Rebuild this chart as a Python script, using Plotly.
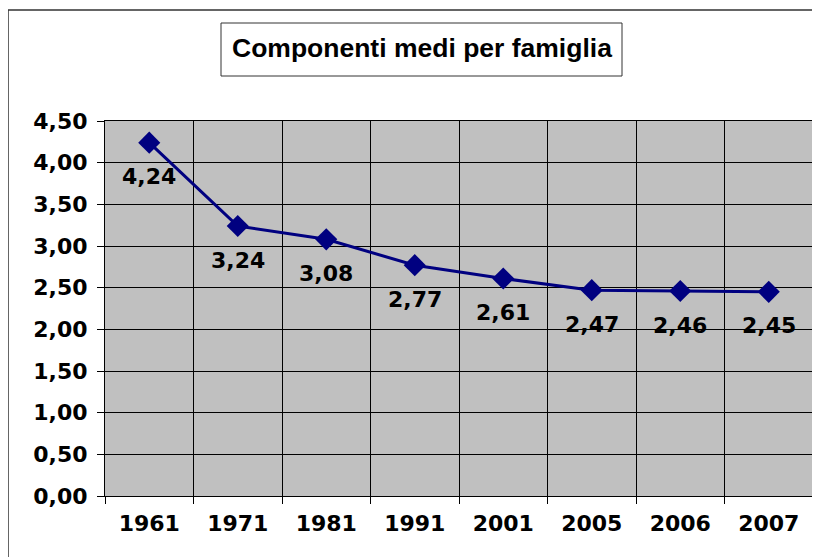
import plotly.graph_objects as go

years = ["1961", "1971", "1981", "1991", "2001", "2005", "2006", "2007"]
values = [4.24, 3.24, 3.08, 2.77, 2.61, 2.47, 2.46, 2.45]
title_text = "Componenti medi per famiglia"

W, H = 820, 557
OFF = 8  # page body margin offset
# target plot area in page pixels
PL, PR, PT, PB = 105, 813, 121, 496
ml = PL - OFF
mt = PT - OFF
mr = W - (PR - OFF)
mb = H - (PB - OFF)
pw = PR - PL
ph = PB - PT

def px_x(x):
    return (x - PL) / pw

def px_y(y):
    return (PB - y) / ph

fig = go.Figure()
fig.add_trace(go.Scatter(
    x=years, y=values, mode="lines+markers",
    line=dict(color="#000080", width=3),
    marker=dict(symbol="diamond", size=17, color="#000080"),
    showlegend=False, hoverinfo="skip",
))

tickfont = dict(family="DejaVu Sans", size=22, color="black")
annotations = []
for i, v in enumerate(values):
    annotations.append(dict(x=i, y=v, xref="x", yref="y",
                            text="<b>%s</b>" % ("%.2f" % v).replace(".", ","),
                            showarrow=False, yshift=-34, font=dict(tickfont)))
annotations.append(dict(xref="paper", yref="paper", x=px_x(422), y=px_y(48),
                        text="<b>%s</b>" % title_text,
                        showarrow=False, xanchor="center", yanchor="middle",
                        font=dict(family="Liberation Sans", size=26.5, color="black")))

fig.update_layout(
    width=W, height=H,
    margin=dict(l=ml, r=mr, t=mt, b=mb),
    paper_bgcolor="white", plot_bgcolor="#C0C0C0",
    separators=",.",
    xaxis=dict(type="category", tickson="boundaries", ticks="outside", ticklen=7,
               tickcolor="black", showgrid=True, gridcolor="black", gridwidth=1,
               showline=True, linecolor="black", linewidth=1, mirror=True,
               tickfont=tickfont, tickprefix="<b>", ticksuffix="</b>",
               ticklabelstandoff=8,
               range=[-0.5, 7.5], fixedrange=True),
    yaxis=dict(range=[0, 4.5], dtick=0.5, tickformat=".2f", ticks="outside", ticklen=7,
               tickcolor="black", showgrid=True, gridcolor="black", gridwidth=1,
               showline=True, linecolor="black", linewidth=1, mirror=True,
               tickfont=tickfont, tickprefix="<b>", ticksuffix="</b>", zeroline=False,
               ticklabelstandoff=5,
               fixedrange=True),
    shapes=[
        dict(type="rect", xref="paper", yref="paper",
             x0=px_x(8), x1=px_x(840), y0=px_y(580), y1=px_y(10),
             line=dict(color="#333333", width=1.5), fillcolor="rgba(0,0,0,0)", layer="below"),
        dict(type="rect", xref="paper", yref="paper",
             x0=px_x(221), x1=px_x(622), y0=px_y(76), y1=px_y(23),
             line=dict(color="#333333", width=1), fillcolor="white"),
    ],
    annotations=annotations,
)

fig.write_html("out.html")
